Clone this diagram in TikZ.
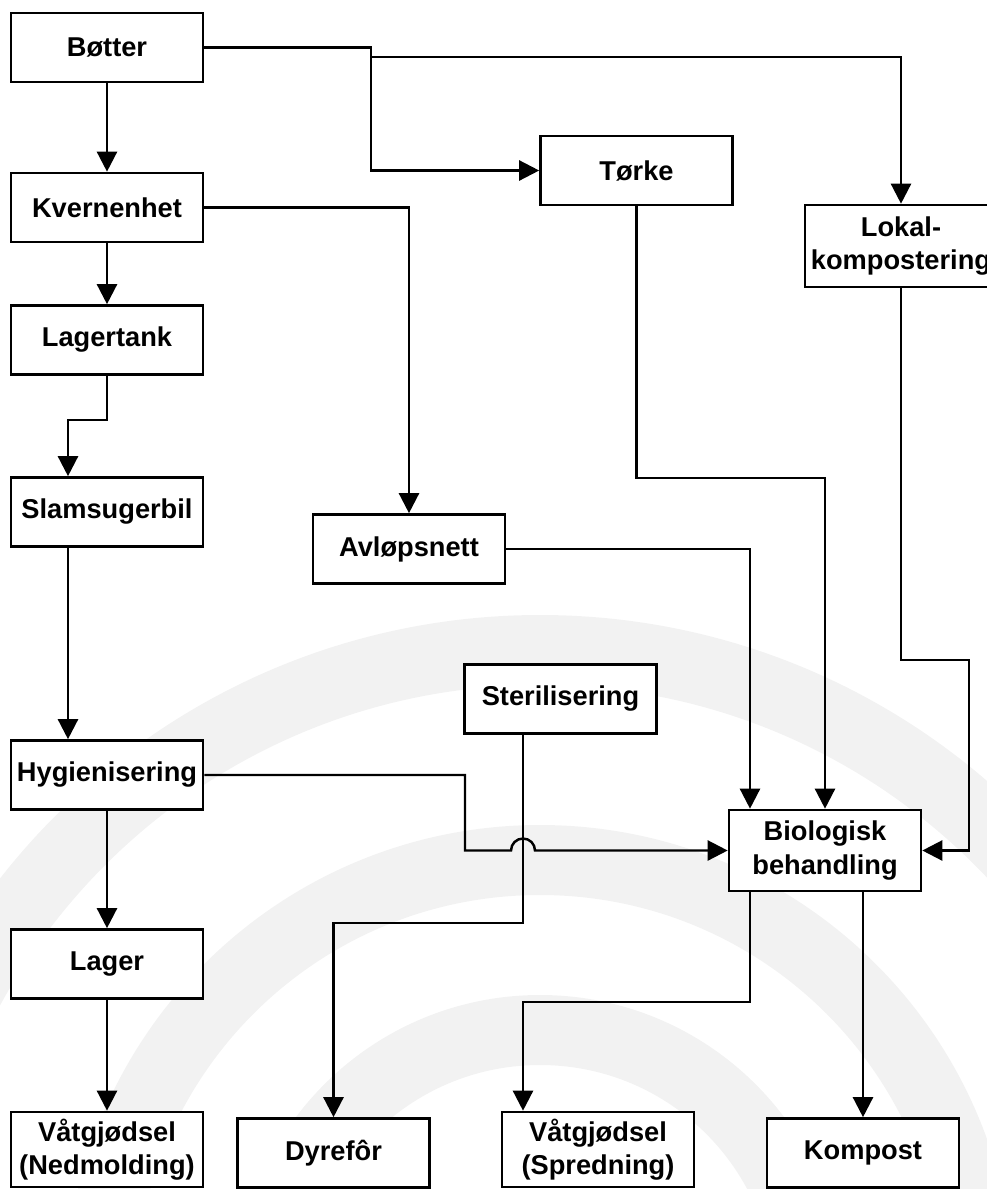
\documentclass[tikz,border=0pt]{standalone}
\usepackage{fontspec}
\setmainfont{Liberation Sans}
\usetikzlibrary{arrows.meta}
\begin{document}
\begin{tikzpicture}
\tikzstyle{box} = [draw, line width=1.5pt, fill=white, minimum width=3.84cm, minimum height=1.38cm, inner sep=0, align=center, font=\bfseries\fontsize{15.5}{19}\selectfont]
\tikzstyle{arr} = [-{Triangle[length=0.4cm,width=0.4cm]}, line width=1.4pt]
\tikzstyle{wmark} = [draw=black!5, line width=1.4cm]
\useasboundingbox (0,0) rectangle (19.74,-23.78);
% faint logo in the background
\draw [wmark] (10.8,-26) ++(180:13) arc [start angle=180, end angle=0, radius=13];
\draw [wmark] (10.8,-26) ++(180:8.8) arc [start angle=180, end angle=0, radius=8.8];
\draw [wmark] (10.8,-26) ++(180:5.4) arc [start angle=180, end angle=0, radius=5.4];

\node [box] (botter) at (2.14,-0.95) {Bøtter};
\node [box] (kvern) at (2.14,-4.15) {Kvernenhet};
\node [box] (tank) at (2.14,-6.8) {Lagertank};
\node [box] (slam) at (2.14,-10.24) {Slamsugerbil};
\node [box] (hyg) at (2.14,-15.5) {Hygienisering};
\node [box] (lager) at (2.14,-19.28) {Lager};
\node [box, minimum height=1.5cm] (vatN) at (2.14,-22.99) {Våtgjødsel\\(Nedmolding)};
\node [box] (dyr) at (6.67,-23.06) {Dyrefôr};
\node [box, minimum height=1.5cm] (vatS) at (11.96,-22.99) {Våtgjødsel\\(Spredning)};
\node [box] (kompost) at (17.26,-23.06) {Kompost};
\node [box] (steril) at (11.21,-13.98) {Sterilisering};
\node [box, minimum height=1.62cm] (bio) at (16.5,-17.01) {Biologisk\\behandling};
\node [box] (avlop) at (8.18,-10.98) {Avløpsnett};
\node [box] (torke) at (12.73,-3.41) {Tørke};
\node [box, minimum height=1.64cm] (lokal) at (18.02,-4.92) {Lokal-\\kompostering};

% bends
\coordinate (j1) at (7.42,-0.95);
\coordinate (j2) at (7.42,-1.14);
\coordinate (s1) at (1.36,-8.4);
\coordinate (h1) at (9.3,-17.01);
\coordinate (d1) at (10.46,-18.46);
\coordinate (t1) at (12.73,-9.56);
\coordinate (a1) at (15,0);
\coordinate (l1) at (19.38,-13.2);
\coordinate (v1) at (10.46,-20.04);

\draw [arr] (botter) -- (kvern);
\draw [arr] (botter.east) -- (j1) |- (torke.west);
\draw [arr] (j1) -- (j2) -| (lokal.north);
\draw [arr] (kvern) -- (tank);
\draw [arr] (kvern.east) -| (avlop.north);
\draw [arr] (tank.south) |- (s1) -- (s1 |- slam.north);
\draw [arr] (s1 |- slam.south) -- (s1 |- hyg.north);
\draw [arr] (hyg) -- (lager);
\draw [arr] (lager) -- (vatN);
\draw [arr] (hyg.east) -| (h1) -- (10.22,-17.01) arc [start angle=180, end angle=0, radius=0.24] -- (bio.west);
\draw [arr] (d1 |- steril.south) -- (d1) -| (dyr.north);
\draw [arr] (torke.south) -- (t1) -| (bio.north);
\draw [arr] (avlop.east) -| (a1 |- bio.north);
\draw [arr] (lokal.south) |- (l1) |- (bio.east);
\draw [arr] (a1 |- bio.south) |- (v1) -- (v1 |- vatS.north);
\draw [arr] (bio.south -| kompost.north) -- (kompost.north);
\end{tikzpicture}
\end{document}
